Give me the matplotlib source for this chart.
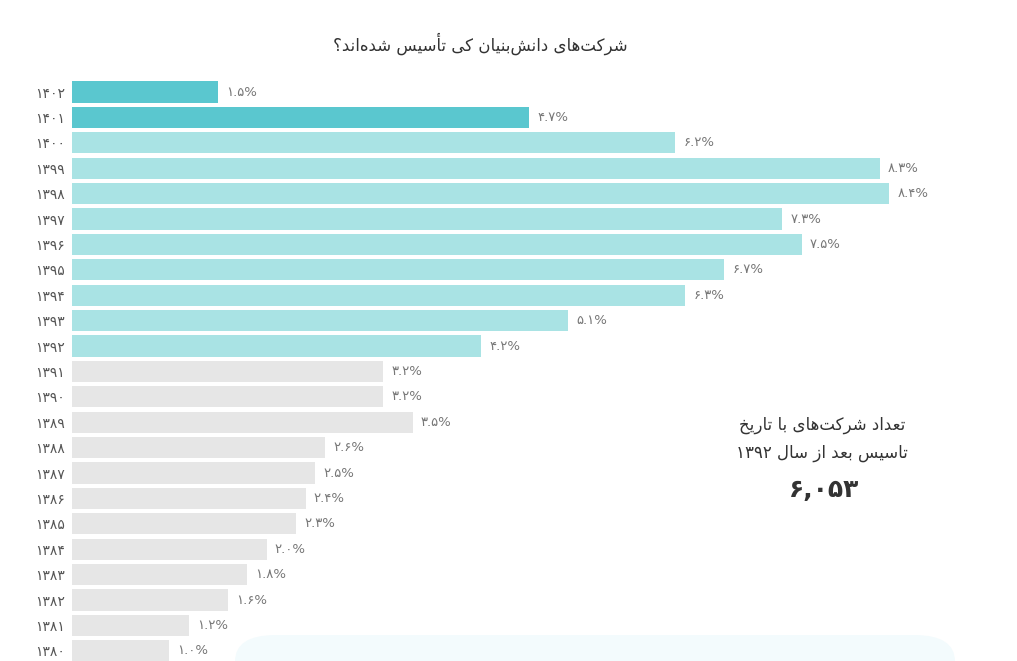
import re
import matplotlib
matplotlib.use('Agg')
import matplotlib.pyplot as plt
from matplotlib.patches import FancyBboxPatch

# data
years = [1402, 1401, 1400, 1399, 1398, 1397, 1396, 1395, 1394, 1393, 1392,
         1391, 1390, 1389, 1388, 1387, 1386, 1385, 1384, 1383, 1382, 1381, 1380]
shares = [1.5, 4.7, 6.2, 8.3, 8.4, 7.3, 7.5, 6.7, 6.3, 5.1, 4.2,
          3.2, 3.2, 3.5, 2.6, 2.5, 2.4, 2.3, 2.0, 1.8, 1.6, 1.2, 1.0]
title = 'شرکت‌های دانش‌بنیان کی تأسیس شده‌اند؟'
note_lines = ['تعداد شرکت‌های با تاریخ', 'تاسیس بعد از سال ۱۳۹۲']
total = 6053

fa = str.maketrans('0123456789', '۰۱۲۳۴۵۶۷۸۹')

# isolated, final, initial, medial
FORMS = {
    'ا': ('\uFE8D', '\uFE8E', None, None),
    'أ': ('\uFE83', '\uFE84', None, None),
    'د': ('\uFEA9', '\uFEAA', None, None),
    'ر': ('\uFEAD', '\uFEAE', None, None),
    'ز': ('\uFEAF', '\uFEB0', None, None),
    'ب': ('\uFE8F', '\uFE90', '\uFE91', '\uFE92'),
    'ت': ('\uFE95', '\uFE96', '\uFE97', '\uFE98'),
    'خ': ('\uFEA5', '\uFEA6', '\uFEA7', '\uFEA8'),
    'س': ('\uFEB1', '\uFEB2', '\uFEB3', '\uFEB4'),
    'ش': ('\uFEB5', '\uFEB6', '\uFEB7', '\uFEB8'),
    'ع': ('\uFEC9', '\uFECA', '\uFECB', '\uFECC'),
    'ل': ('\uFEDD', '\uFEDE', '\uFEDF', '\uFEE0'),
    'ن': ('\uFEE5', '\uFEE6', '\uFEE7', '\uFEE8'),
    'ه': ('\uFEE9', '\uFEEA', '\uFEEB', '\uFEEC'),
    'ی': ('\uFBFC', '\uFBFD', '\uFBFE', '\uFBFF'),
    'ک': ('\uFB8E', '\uFB8F', '\uFB90', '\uFB91'),
}


def shape(text):
    # join letters and put them in visual (right to left) order
    out = []
    for k, ch in enumerate(text):
        if ch not in FORMS:
            if ch != '\u200c':
                out.append(ch)
            continue
        iso, fin, ini, med = FORMS[ch]
        prev = text[k - 1] if k > 0 else ''
        nxt = text[k + 1] if k + 1 < len(text) else ''
        jp = prev in FORMS and FORMS[prev][2] is not None
        jn = ini is not None and nxt in FORMS
        if jp and jn:
            out.append(med)
        elif jp:
            out.append(fin)
        elif jn:
            out.append(ini)
        else:
            out.append(iso)
    s = ''.join(out)[::-1]
    return re.sub(r'[۰-۹0-9,.]+', lambda m: m.group()[::-1], s)


def bar_color(y):
    if y >= 1401:
        return '#5ac7cf'
    if y >= 1392:
        return '#a9e3e4'
    return '#e6e6e6'


fig = plt.figure(figsize=(10.17, 6.61), dpi=100)
fig.patch.set_facecolor('white')

# faint card peeking in at the bottom
card = FancyBboxPatch((235 / 1017, -0.1), 720 / 1017, 0.1 + 26 / 661,
                      boxstyle='round,pad=0,rounding_size=0.04',
                      transform=fig.transFigure, facecolor='#f3fbfd',
                      edgecolor='none', zorder=0)
fig.patches.append(card)

ax = fig.add_axes([72 / 1017, 0, 945 / 1017, (661 - 79.3) / 661])
ax.set_facecolor('none')
pos = list(range(len(years)))
ax.barh(pos, shares, height=0.83, color=[bar_color(y) for y in years])
for p, v in zip(pos, shares):
    ax.annotate(f'{v:.1f}%'.translate(fa), (v, p), xytext=(6, 0),
                textcoords='offset points', va='center', ha='left',
                fontsize=9.5, color='#777777')

ax.set_ylim(22.4, -0.5)
ax.set_xlim(0, 945 / 97.3)
ax.set_yticks(pos, labels=[str(y).translate(fa) for y in years])
ax.tick_params(axis='y', length=0, pad=5, labelsize=10, labelcolor='#555555')
ax.set_xticks([])
for s in ax.spines.values():
    s.set_visible(False)

fig.text(480 / 1017, 1 - 44 / 661, shape(title), ha='center', va='center',
         fontsize=12, color='#333333')
fig.text(822 / 1017, 1 - 425 / 661, shape(note_lines[0]), ha='center',
         va='center', fontsize=12, color='#333333')
fig.text(822 / 1017, 1 - 453 / 661, shape(note_lines[1]), ha='center',
         va='center', fontsize=12, color='#333333')
fig.text(824 / 1017, 1 - 490 / 661, f'{total:,}'.translate(fa), ha='center',
         va='center', fontsize=18, fontweight='bold', color='#333333')

fig.savefig('out.png', dpi=100)
